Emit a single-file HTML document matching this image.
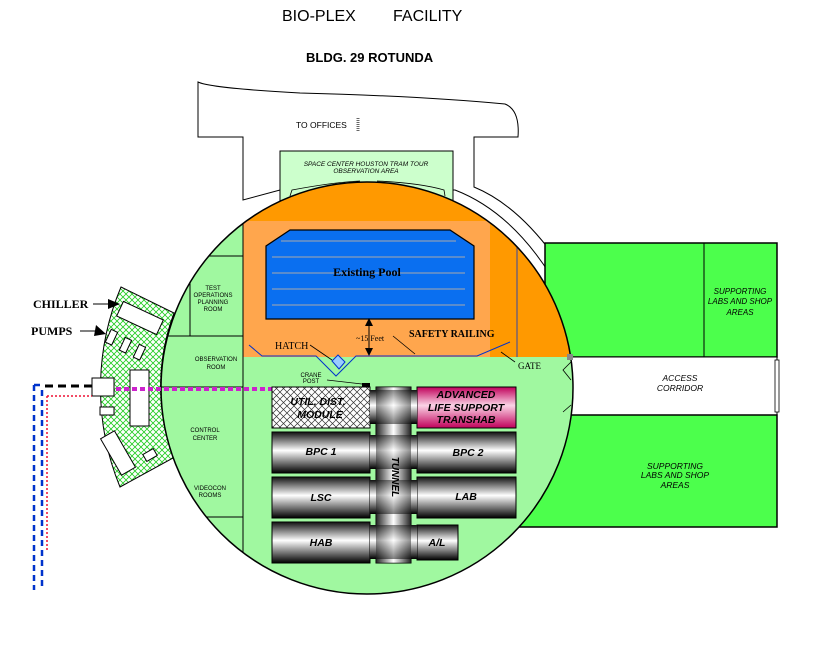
<!DOCTYPE html>
<html><head><style>
body{margin:0;background:#fff;}
svg{display:block;font-family:"Liberation Sans",sans-serif;}
</style></head><body>
<svg width="813" height="649" viewBox="0 0 813 649" xmlns="http://www.w3.org/2000/svg">
<defs>
<pattern id="hatch" width="6" height="6" patternUnits="userSpaceOnUse">
<rect width="6" height="6" fill="#fff"/>
<path d="M0 0L6 6M6 0L0 6" stroke="#22cc22" stroke-width="0.8"/>
</pattern>
<pattern id="hatchk" width="7" height="7" patternUnits="userSpaceOnUse">
<rect width="7" height="7" fill="#fff"/>
<path d="M0 0L7 7M7 0L0 7" stroke="#333" stroke-width="0.7"/>
</pattern>
<linearGradient id="cyl" x1="0" y1="0" x2="0" y2="1">
<stop offset="0" stop-color="#111"/><stop offset="0.45" stop-color="#fff"/><stop offset="1" stop-color="#000"/>
</linearGradient>
<linearGradient id="tun" x1="0" y1="0" x2="1" y2="0">
<stop offset="0" stop-color="#222"/><stop offset="0.5" stop-color="#fff"/><stop offset="1" stop-color="#222"/>
</linearGradient>
<linearGradient id="pink" x1="0" y1="0" x2="0" y2="1">
<stop offset="0" stop-color="#c0005a"/><stop offset="0.45" stop-color="#fbd4e6"/><stop offset="1" stop-color="#c0005a"/>
</linearGradient>
<clipPath id="circ"><circle cx="367" cy="388" r="206"/></clipPath>
</defs>

<text x="282" y="21" font-size="16">BIO-PLEX</text>
<text x="393" y="21" font-size="16">FACILITY</text>
<text x="306" y="62" font-size="13" font-weight="bold">BLDG. 29 ROTUNDA</text>

<!-- building outline -->
<path d="M198 82 Q210 88 300 93 Q420 96 505 104 Q520 110 518 137 L474 137 L474 187 Q530 210 578 293 L565 300 Q520 215 455 190 L280 190 L243 200 L243 137 L198 137 Z" fill="#fff" stroke="#000" stroke-width="1"/>
<text x="296" y="128" font-size="8.5">TO OFFICES</text>
<path d="M358 118v13" stroke="#666" stroke-width="3" stroke-dasharray="1,1"/>
<rect x="280" y="151" width="173" height="50" fill="#ccffcc" stroke="#000"/>
<text x="366" y="166" font-size="6.5" font-style="italic" text-anchor="middle">SPACE CENTER HOUSTON TRAM TOUR</text>
<text x="366" y="173" font-size="6.5" font-style="italic" text-anchor="middle">OBSERVATION AREA</text>

<!-- green labs -->
<rect x="545" y="243" width="232" height="114" fill="#4cff4c" stroke="#000" stroke-width="1.5"/>
<line x1="704" y1="243" x2="704" y2="357" stroke="#000"/>
<rect x="515" y="357" width="262" height="58" fill="#fff" stroke="#000"/>
<rect x="775" y="360" width="4" height="52" fill="#fff" stroke="#000" stroke-width="0.8"/>
<rect x="515" y="415" width="262" height="112" fill="#4cff4c" stroke="#000" stroke-width="1.5"/>
<text x="740" y="294" font-size="8" font-style="italic" text-anchor="middle">SUPPORTING</text>
<text x="740" y="304" font-size="8" font-style="italic" text-anchor="middle">LABS AND SHOP</text>
<text x="740" y="315" font-size="8" font-style="italic" text-anchor="middle">AREAS</text>
<text x="680" y="381" font-size="8.5" font-style="italic" text-anchor="middle">ACCESS</text>
<text x="680" y="391" font-size="8.5" font-style="italic" text-anchor="middle">CORRIDOR</text>
<text x="675" y="469" font-size="8.5" font-style="italic" text-anchor="middle">SUPPORTING</text>
<text x="675" y="478" font-size="8.5" font-style="italic" text-anchor="middle">LABS AND SHOP</text>
<text x="675" y="488" font-size="8.5" font-style="italic" text-anchor="middle">AREAS</text>

<!-- circle -->
<circle cx="367" cy="388" r="206" fill="#a0f8a0"/>
<g clip-path="url(#circ)">
<rect x="243" y="170" width="340" height="187" fill="#ff9900"/>
<rect x="243" y="221" width="247" height="136" fill="#ffa64d"/>
<line x1="517" y1="243" x2="517" y2="357" stroke="#0033cc" stroke-width="0.8"/>
<line x1="243" y1="190" x2="243" y2="600" stroke="#000"/>
<path d="M160 256H243M160 336H243M190 256V336M160 387H243M160 517H243M190 517V560" stroke="#000" fill="none"/>
</g>
<circle cx="367" cy="388" r="206" fill="none" stroke="#000" stroke-width="1.5"/>
<path d="M290 196 L292 190 Q335 182 360 181 M377 181 Q420 183 444 190 L445 196" stroke="#000" fill="none" stroke-width="0.8"/>
<rect x="567" y="354" width="6" height="6" fill="#888"/>

<!-- pool -->
<path d="M290 230 L450 230 L474 246 L474 319 L266 319 L266 246 Z" fill="#0a6ff0" stroke="#000" stroke-width="1.2"/>
<g stroke="#aaa" stroke-width="1">
<line x1="281" y1="241" x2="456" y2="241"/><line x1="272" y1="257" x2="465" y2="257"/>
<line x1="272" y1="273" x2="465" y2="273"/><line x1="272" y1="289" x2="465" y2="289"/><line x1="272" y1="305" x2="465" y2="305"/>
</g>
<text x="367" y="276" font-family="Liberation Serif" font-size="12" font-weight="bold" text-anchor="middle">Existing Pool</text>
<line x1="369" y1="320" x2="369" y2="354" stroke="#000"/>
<path d="M365 326L369 318L373 326ZM365 348L369 356L373 348Z" fill="#000"/>
<text x="356" y="341" font-family="Liberation Serif" font-size="8">~15 Feet</text>
<text x="409" y="337" font-family="Liberation Serif" font-size="10" font-weight="bold">SAFETY RAILING</text>
<path d="M393 336L415 354" stroke="#000" stroke-width="0.8"/>
<text x="275" y="349" font-family="Liberation Serif" font-size="10">HATCH</text>
<path d="M310 345L332 360" stroke="#000" stroke-width="0.8"/>
<!-- railing -->
<path d="M249 345L262 356H316L336 376L356 356H477L510 342" stroke="#0033cc" fill="none" stroke-width="1"/>
<path d="M332 361L338 355L345 362L339 369Z" fill="#99ccff" stroke="#0033cc"/>
<text x="518" y="369" font-family="Liberation Serif" font-size="9">GATE</text>
<path d="M515 362L501 352" stroke="#000" stroke-width="0.8"/>
<path d="M571 362L563 370L571 380M571 405L563 412" stroke="#000" fill="none" stroke-width="0.8"/>

<!-- left rooms text -->
<g font-size="6" text-anchor="middle">
<text x="213" y="290">TEST</text><text x="213" y="297">OPERATIONS</text><text x="213" y="304">PLANNING</text><text x="213" y="311">ROOM</text>
<text x="216" y="361">OBSERVATION</text><text x="216" y="369">ROOM</text>
<text x="205" y="432">CONTROL</text><text x="205" y="440">CENTER</text>
<text x="210" y="490">VIDEOCON</text><text x="210" y="497">ROOMS</text>
<text x="311" y="377">CRANE</text><text x="311" y="383">POST</text>
</g>
<line x1="327" y1="380" x2="362" y2="384" stroke="#000" stroke-width="0.7"/>
<rect x="362" y="383" width="8" height="7" fill="#000"/>

<!-- chiller -->
<path d="M121 287 L174 313 A210 210 0 0 0 173 458 L120 487 A260 260 0 0 1 121 287 Z" fill="url(#hatch)" stroke="#000"/>
<g fill="#fff" stroke="#000">
<rect x="118" y="310" width="44" height="16" transform="rotate(25 140 318)"/>
<rect x="108" y="330" width="7" height="14" transform="rotate(25 111 337)"/>
<rect x="122" y="338" width="7" height="14" transform="rotate(25 125 345)"/>
<rect x="136" y="345" width="7" height="14" transform="rotate(25 139 352)"/>
<rect x="92" y="378" width="22" height="18"/>
<rect x="130" y="370" width="19" height="56"/>
<rect x="100" y="407" width="14" height="8"/>
<rect x="110" y="432" width="16" height="42" transform="rotate(-30 118 453)"/>
<rect x="144" y="451" width="12" height="8" transform="rotate(-30 150 455)"/>
</g>
<text x="33" y="308" font-family="Liberation Serif" font-size="12" font-weight="bold">CHILLER</text>
<text x="31" y="335" font-family="Liberation Serif" font-size="12" font-weight="bold">PUMPS</text>
<path d="M93 304H110M80 331H98" stroke="#000"/>
<path d="M108 299L120 304L108 309ZM96 325L106 334L94 336Z" fill="#000"/>

<!-- lines left -->
<path d="M45 386H92" stroke="#000" stroke-width="3" stroke-dasharray="8,5"/>
<path d="M34 385V590M42 390V590M34 385H44" stroke="#0033cc" stroke-width="2.5" stroke-dasharray="6,4"/>
<path d="M47 396V550M47 396H92" stroke="#ee1133" stroke-width="1.5" stroke-dasharray="2,2"/>
<path d="M116 389H272" stroke="#cc22cc" stroke-width="4" stroke-dasharray="5,3"/>

<!-- modules -->
<rect x="376" y="387" width="35" height="176" fill="url(#tun)" stroke="#000"/>
<g stroke="#000">
<rect x="272" y="387" width="98" height="41" fill="url(#hatchk)"/>
<rect x="417" y="387" width="99" height="41" fill="url(#pink)"/>
<rect x="272" y="432" width="98" height="41" fill="url(#cyl)"/>
<rect x="417" y="432" width="99" height="41" fill="url(#cyl)"/>
<rect x="272" y="477" width="98" height="41" fill="url(#cyl)"/>
<rect x="417" y="477" width="99" height="41" fill="url(#cyl)"/>
<rect x="272" y="522" width="98" height="41" fill="url(#cyl)"/>
<rect x="417" y="525" width="41" height="35" fill="url(#cyl)"/>
</g>
<g fill="url(#cyl)"><rect x="370" y="390" width="47" height="34"/><rect x="370" y="435" width="47" height="34"/><rect x="370" y="480" width="47" height="34"/><rect x="370" y="525" width="47" height="34"/></g>
<rect x="376" y="387" width="35" height="176" fill="url(#tun)" opacity="0.5"/>
<g font-size="10.5" font-weight="bold" font-style="italic" text-anchor="middle">
<text x="318" y="405">UTIL. DIST.</text>
<text x="320" y="418">MODULE</text>
<text x="466" y="398">ADVANCED</text><text x="466" y="411">LIFE SUPPORT</text><text x="466" y="423">TRANSHAB</text>
<text x="321" y="455">BPC 1</text><text x="468" y="456">BPC 2</text>
<text x="321" y="501">LSC</text><text x="466" y="500">LAB</text>
<text x="321" y="546">HAB</text><text x="437" y="546">A/L</text>
<text transform="translate(392 477) rotate(90)" font-size="10">TUNNEL</text>
</g>
</svg>
</body></html>
